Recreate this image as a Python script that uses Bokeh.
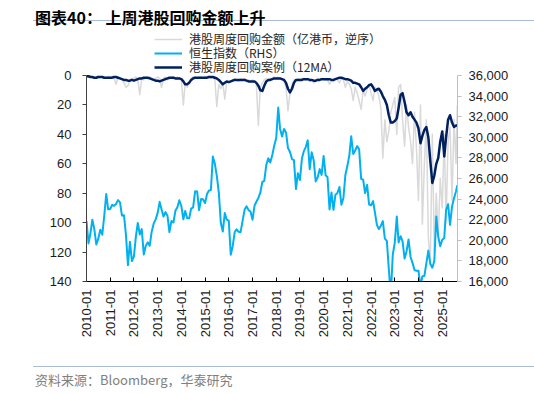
import math
import pandas as pd
from bokeh.plotting import figure
from bokeh.models import (Range1d, LinearAxis, FixedTicker, NumeralTickFormatter,
                          DatetimeTickFormatter, Legend, LegendItem, Div, ColumnDataSource)
from bokeh.layouts import column
from bokeh.embed import file_html
from bokeh.resources import INLINE

# ---------------- data (monthly readings, 2010-01 .. 2025-08, plus last week) -------------
month_starts = list(pd.date_range("2010-01-01", "2025-08-01", freq="MS"))
last_week = [pd.Timestamp("2025-08-22")]
dates = month_starts + last_week

# Hang Seng Index (RHS)
hsi = [
    21870, 19700, 20610, 22000, 21110, 19600, 20130, 21030, 20540, 22360, 24500, 23010,  # 2010
    23040, 23450, 23340, 23530, 23900, 23680, 22400, 22440, 20530, 17590, 19860, 17990,  # 2011
    18430, 20390, 21680, 20560, 21090, 18630, 19440, 19800, 19480, 20840, 21640, 22030,  # 2012
    22660, 23730, 23020, 22300, 22740, 22390, 20800, 21880, 21730, 22860, 23210, 23880,  # 2013
    23310, 22040, 22840, 22150, 22130, 23080, 23190, 24760, 24740, 22930, 24000, 23990,  # 2014
    23610, 24510, 24820, 24900, 28130, 27420, 26250, 24640, 21670, 20850, 22640, 22000,  # 2015
    21910, 18600, 19400, 20780, 21070, 20820, 20790, 21890, 22980, 23300, 22930, 22790,  # 2016
    22000, 23360, 23740, 24110, 24620, 25660, 25760, 27320, 27970, 27550, 28250, 29180,  # 2017
    29920, 32890, 30840, 30090, 30810, 30470, 28960, 28580, 27890, 27790, 24980, 26510,  # 2018
    25850, 27940, 28630, 29050, 29700, 26900, 28540, 27780, 25720, 26090, 26910, 26350,  # 2019
    28190, 26310, 26130, 23000, 24640, 22960, 24430, 24600, 25180, 23460, 24110, 26340,  # 2020
    27230, 28300, 30100, 28380, 28720, 29150, 28830, 25960, 25880, 24580, 25380, 23480,  # 2021
    23400, 23800, 22710, 21500, 21090, 21420, 21860, 20160, 19950, 17220, 14690, 18600,  # 2022
    19780, 22300, 19790, 20400, 19890, 18230, 18920, 20080, 18380, 17810, 17110, 17040,  # 2023
    17050, 15490, 16510, 16540, 17760, 19000, 17720, 17340, 17990, 22300, 20320, 19420,  # 2024
    20060, 20230, 22940, 23500, 21500, 23290, 24070, 24770,                              # 2025
    25340,
]

# Weekly buyback cases, 12MA (LHS, reversed)
cases_12ma = [
    0.5, 0.5, 1, 1, 1.5, 1.5, 1, 1, 1, 1.5, 1.5, 1.5,        # 2010
    1.5, 1.5, 1, 1, 1.5, 2, 2.5, 3, 3, 3.5, 3.5, 3,          # 2011
    3.5, 3, 2.5, 2, 2, 1.5, 1.5, 1.5, 2, 2.5, 3, 3.5,        # 2012
    3.5, 4, 3.5, 3, 2.5, 2, 1.5, 1.5, 1.5, 2, 2, 2,          # 2013
    2.5, 4, 6, 6, 5, 3, 2, 1.5, 1.5, 1.5, 1.5, 1.5,          # 2014
    1.5, 1.5, 1, 1, 1, 1.5, 2, 3, 4.5, 6, 5, 4,              # 2015
    4.5, 4, 3.5, 3, 3, 3, 3, 3, 3, 3.5, 4, 4,                # 2016
    4, 4, 5, 7, 10, 10.5, 7, 4, 3, 3, 2.5, 2,                # 2017
    2, 2, 2, 2.5, 3, 5, 9, 11.5, 9, 5, 3, 3,                 # 2018
    3, 3, 2.5, 2.5, 2.5, 3, 3, 3.5, 3.5, 3, 3, 2.5,          # 2019
    2.5, 2.5, 2.5, 2.5, 3, 3, 2.5, 2, 1.5, 1.5, 2, 2.5,      # 2020
    2.5, 3, 3.5, 5, 5, 5.5, 6, 8, 10.5, 9, 8, 6.5,           # 2021
    6, 8, 10.5, 9.5, 9, 11, 14, 16.5, 20, 27, 32, 32,        # 2022
    31, 29, 22, 13, 12, 18, 25, 27, 25, 28, 30, 32,          # 2023
    36, 46, 41, 37, 35, 42, 58, 73, 68, 60, 56, 45,          # 2024
    38, 55, 42, 30, 27, 32, 35, 34,                          # 2025
    34,
]

# Weekly buyback amount, HKD 100m (LHS, reversed)
amount = [
    0, 1, 0.5, 1, 2, 1, 0.5, 1, 0.5, 1, 1.5, 0.5,            # 2010
    1, 0.5, 2, 6, 1, 2, 3, 5, 8, 7, 3, 2,                    # 2011
    2, 1, 3, 13, 2, 3, 1, 2, 1, 2, 3, 2,                     # 2012
    1, 2, 8, 2, 1, 3, 2, 1, 1, 2, 1, 2,                      # 2013
    3, 20, 5, 8, 4, 2, 1, 1, 2, 1, 1, 2,                     # 2014
    1, 1, 1, 2, 1, 3, 21, 6, 9, 5, 16, 4,                    # 2015
    5, 4, 3, 2, 3, 4, 2, 3, 2, 4, 3, 4,                      # 2016
    3, 4, 6, 34, 8, 5, 3, 2, 3, 2, 2, 1,                     # 2017
    2, 1, 2, 3, 4, 8, 24, 12, 6, 3, 4, 2,                    # 2018
    3, 2, 2, 3, 2, 4, 3, 5, 4, 2, 3, 2,                      # 2019
    2, 3, 3, 6, 3, 4, 2, 3, 5, 2, 3, 8,                      # 2020
    4, 6, 9, 17, 8, 12, 17, 23, 10, 14, 9, 6,                # 2021
    12, 17, 8, 10, 14, 22, 56, 30, 45, 38, 25, 20,           # 2022
    15, 40, 8, 6, 30, 48, 20, 35, 45, 60, 25, 50,            # 2023
    85, 20, 101, 60, 30, 110, 128, 40, 120, 80, 110, 70,     # 2024
    90, 40, 100, 45, 35, 85, 30, 60,                         # 2025
    20,
]

year_ticks = list(range(2010, 2026))
left_ticks = [0, 20, 40, 60, 80, 100, 120, 140]
right_ticks = [16000, 18000, 20000, 22000, 24000, 26000, 28000, 30000, 32000, 34000, 36000]

title_text = "图表40： 上周港股回购金额上升"
source_text = "资料来源：Bloomberg，华泰研究"
legend_labels = ["港股周度回购金额（亿港币，逆序）", "恒生指数（RHS）", "港股周度回购案例（12MA）"]

# ---------------- styling ----------------
C_GRAY = "#d9d9d9"
C_BLUE = "#00b0f0"
C_NAVY = "#002060"
C_RULE = "#a9bcd6"
TICK_FONT = "Liberation Sans"
CJK_FONT = "Noto Sans CJK SC"

src = ColumnDataSource(dict(date=dates, hsi=hsi, cases=cases_12ma, amount=amount))

W = 534
SPACER_H = 2
HEAD_H = 26

spacer = Div(text="", width=W, height=SPACER_H, margin=0)

# ---------------- header: title text + rule ----------------
head = Div(
    text=(f'<div style="margin-left:35px;padding-top:6px;height:18px;white-space:nowrap;'
          f'font-family:\'{CJK_FONT}\';font-weight:bold;font-size:16px;line-height:18px;'
          f'color:#000000;">{title_text}</div>'
          f'<div style="margin-left:33px;width:501px;height:0px;'
          f'border-bottom:1.5px solid {C_RULE};"></div>'),
    width=W, height=HEAD_H, margin=0)

# ---------------- main chart ----------------
TOP = SPACER_H + HEAD_H
FIG_H = 355 - TOP
FRAME_H = 281 - (TOP + 1)
AX_H = 206
left_top = -140 * (FRAME_H - AX_H) / AX_H
right_top = 36000 + 20000 * (FRAME_H - AX_H) / AX_H

x_start = pd.Timestamp("2010-01-01")
x_end = pd.Timestamp("2025-08-24")
p = figure(width=W, height=FIG_H, x_axis_type="datetime",
           x_range=Range1d(x_start, x_end), y_range=Range1d(140, left_top),
           min_border_left=86, min_border_right=77, min_border_top=1, min_border_bottom=74,
           toolbar_location=None, output_backend="svg", margin=0)
p.grid.visible = False
p.outline_line_color = None
p.background_fill_color = "white"
p.extra_y_ranges = {"hsi": Range1d(16000, right_top)}

r_amt = p.line("date", "amount", source=src, line_color=C_GRAY, line_width=1.5, line_join="round")
r_hsi = p.line("date", "hsi", source=src, y_range_name="hsi", line_color=C_BLUE, line_width=2,
               line_join="round")
r_cas = p.line("date", "cases", source=src, line_color=C_NAVY, line_width=2.5, line_join="round")

# bottom axis
xa = p.xaxis[0]
xa.ticker = FixedTicker(ticks=[pd.Timestamp(f"{y}-01-01").value / 1e6 for y in year_ticks])
fmt = "%Y-%m"
xa.formatter = DatetimeTickFormatter(microseconds=fmt, milliseconds=fmt, seconds=fmt, minsec=fmt,
                                     minutes=fmt, hourmin=fmt, hours=fmt, days=fmt, months=fmt,
                                     years=fmt)
xa.major_label_orientation = math.pi / 2
xa.major_tick_in = 4
xa.major_tick_out = 0
xa.minor_tick_line_color = None
xa.axis_line_color = "#000000"
xa.major_tick_line_color = "#000000"
xa.major_label_standoff = 8
xa.major_label_text_font = TICK_FONT
xa.major_label_text_font_size = "13px"
xa.major_label_text_color = "#1a1a1a"

# left axis
ya = p.yaxis[0]
ya.ticker = FixedTicker(ticks=left_ticks)
ya.bounds = (0, 140)
ya.major_tick_in = 0
ya.major_tick_out = 4
ya.minor_tick_line_color = None
ya.axis_line_color = "#404040"
ya.major_tick_line_color = "#404040"
ya.major_label_standoff = 11
ya.major_label_text_font = TICK_FONT
ya.major_label_text_font_size = "13px"
ya.major_label_text_color = "#1a1a1a"

# right axis
ra = LinearAxis(y_range_name="hsi", ticker=FixedTicker(ticks=right_ticks),
                formatter=NumeralTickFormatter(format="0,0"), bounds=(16000, 36000))
ra.major_tick_in = 0
ra.major_tick_out = 4
ra.minor_tick_line_color = None
ra.axis_line_color = "#bfbfbf"
ra.major_tick_line_color = "#bfbfbf"
ra.major_label_standoff = 7
ra.major_label_text_font = TICK_FONT
ra.major_label_text_font_size = "13px"
ra.major_label_text_color = "#1a1a1a"
p.add_layout(ra, "right")

# one single-row legend per series, stacked above the value area
ROW_H = 20
row_centres = [38.5, 52.5, 66.5]      # page y of each legend row
for lab, rend, cy in zip(legend_labels, [r_amt, r_hsi, r_cas], row_centres):
    lg = Legend(items=[LegendItem(label=lab, renderers=[rend])],
                location=(68, 281 - cy - ROW_H / 2), orientation="vertical",
                padding=0, margin=0, spacing=0, label_height=ROW_H, glyph_height=ROW_H,
                glyph_width=28, label_standoff=7,
                border_line_color=None, background_fill_alpha=0,
                label_text_font=CJK_FONT, label_text_font_size="12px",
                label_text_color="#262626")
    p.add_layout(lg, "center")

# ---------------- footer ----------------
foot = Div(
    text=(f'<div style="margin-left:33px;width:501px;height:12px;'
          f'border-bottom:1.5px solid {C_RULE};"></div>'
          f'<div style="margin-left:35px;margin-top:5px;white-space:nowrap;'
          f'font-family:\'{CJK_FONT}\';font-size:13px;line-height:15px;color:#808080;">'
          f'{source_text}</div>'),
    width=W, height=39, margin=0)

layout = column(spacer, head, p, foot, spacing=0)
open("out.html", "w").write(file_html(layout, INLINE))
